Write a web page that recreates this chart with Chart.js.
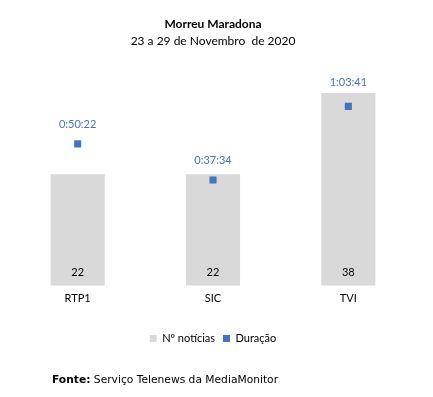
<!DOCTYPE html>
<html><head><meta charset="utf-8">
<script src="https://cdn.jsdelivr.net/npm/chart.js@4"></script>
<style>
html,body{margin:0;padding:0;background:#fff;}
#wrap{position:relative;width:433px;height:397px;}
#fonte{position:absolute;left:52px;top:373px;font-family:"DejaVu Sans";font-size:10.7px;color:#000;white-space:nowrap;}
</style></head><body>
<div id="wrap"><canvas id="c" width="433" height="397"></canvas>
<div id="fonte"><b>Fonte:</b> Serviço Telenews da MediaMonitor</div></div>
<script>
const categories = ["RTP1", "SIC", "TVI"];
const noticias = [22, 22, 38];
const duracao = ["0:50:22", "0:37:34", "1:03:41"];
const titleText = "Morreu Maradona";
const subtitleText = "23 a 29 de Novembro  de 2020";

function toSec(s){const p=s.split(":").map(Number);return p[0]*3600+p[1]*60+p[2];}
const duracaoSec = duracao.map(toSec);

const FONT = "Lato, 'Open Sans', sans-serif";

const labelPlugin = {
  id:'labels',
  afterDatasetsDraw(chart, args, opts){
    const ctx = chart.ctx;
    ctx.save();
    ctx.font = "11px " + FONT;
    ctx.textAlign = "center";
    ctx.textBaseline = "middle";
    const m0 = chart.getDatasetMeta(0);
    m0.data.forEach((el,i)=>{
      ctx.fillStyle = "#000";
      ctx.fillText(String(noticias[i]), el.x, el.base - 13);
    });
    const m1 = chart.getDatasetMeta(1);
    m1.data.forEach((el,i)=>{
      ctx.fillStyle = "#4472C4";
      ctx.fillText(duracao[i], el.x, el.y - opts.offsets[i]);
    });
    ctx.restore();
  }
};

new Chart(document.getElementById('c'), {
  data: {
    labels: categories,
    datasets: [
      {type:'bar', label:'Nº notícias', data:noticias, backgroundColor:'#D9D9D9', borderWidth:0,
       yAxisID:'y', barPercentage:0.4, categoryPercentage:1.0, order:2},
      {type:'line', label:'Duração', data:duracaoSec, showLine:false, pointStyle:'rect',
       pointRadius:5, pointHoverRadius:5, backgroundColor:'#4472C4', borderColor:'#4472C4', borderWidth:0,
       yAxisID:'y2', order:1}
    ]
  },
  options: {
    responsive:false, animation:false,
    layout:{padding:{left:10, right:17, top:0, bottom:43}},
    plugins:{
      labels:{offsets:[19, 20, 24]},
      title:{display:true, text:titleText, color:'#000', font:{family:FONT, size:12, weight:'bold'},
        padding:{top:17, bottom:0}},
      subtitle:{display:true, text:subtitleText, color:'#000', font:{family:FONT, size:12},
        padding:{top:2.4, bottom:11.8}},
      legend:{position:'bottom', labels:{boxWidth:7, boxHeight:7, color:'#000', font:{family:FONT, size:11}, padding:8,
        sort:(a,b)=>a.datasetIndex-b.datasetIndex}},
      tooltip:{enabled:false}
    },
    scales:{
      x:{grid:{display:false, drawTicks:false}, border:{display:false},
         ticks:{color:'#000', font:{family:FONT, size:11}, padding:6},
         afterFit(scale){ scale.height += 14; }},
      y:{display:false, min:0, max:44.5},
      y2:{display:false, min:0, max:4809, position:'right'}
    }
  },
  plugins:[labelPlugin]
});
</script></body></html>
